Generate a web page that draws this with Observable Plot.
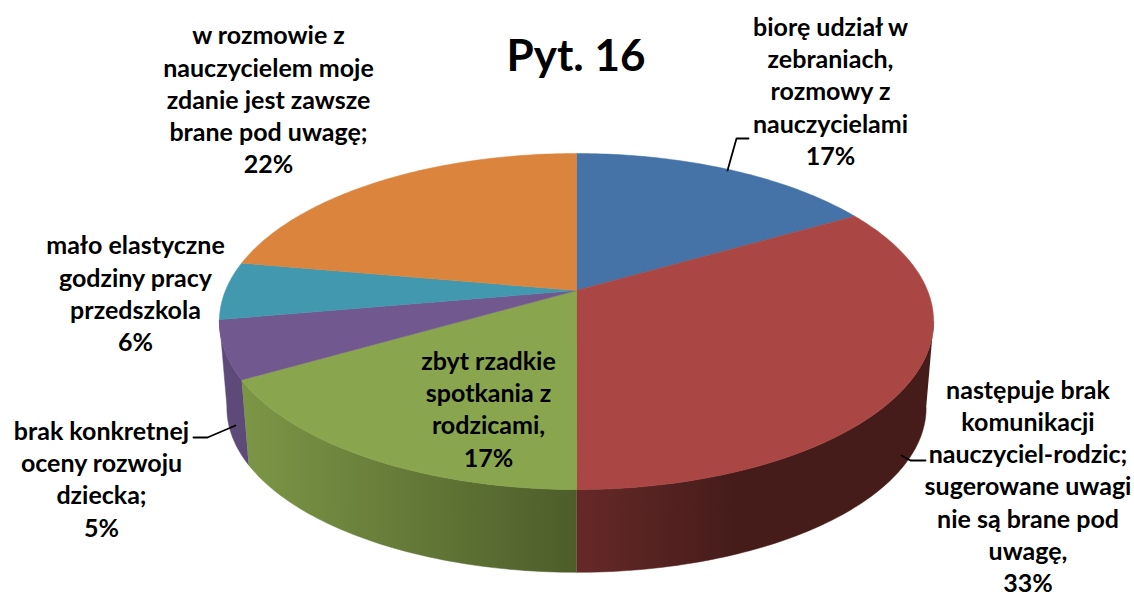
<!DOCTYPE html>
<html lang="pl">
<head>
<meta charset="utf-8">
<script src="https://cdn.jsdelivr.net/npm/d3@7"></script>
<script src="https://cdn.jsdelivr.net/npm/@observablehq/plot@0.6"></script>
<style>
html,body{margin:0;padding:0;background:#fff}
svg{display:block}
</style>
</head>
<body>
<div id="chart"></div>
<script>
// Data
const categories = [
  "biorę udział w\nzebraniach,\nrozmowy z\nnauczycielami",
  "następuje brak\nkomunikacji\nnauczyciel-rodzic;\nsugerowane uwagi\nnie są brane pod\nuwagę,",
  "zbyt rzadkie\nspotkania z\nrodzicami,",
  "brak konkretnej\noceny rozwoju\ndziecka;",
  "mało elastyczne\ngodziny pracy\nprzedszkola",
  "w rozmowie z\nnauczycielem moje\nzdanie jest zawsze\nbrane pod uwagę;"
];
const shares = [16.67, 33.33, 16.67, 5.56, 5.56, 22.22]; // slice sizes
const percentLabels = ["17%", "33%", "17%", "5%", "6%", "22%"]; // as printed
const chartTitle = "Pyt. 16";

// Styles
const topColors = ["#4572a7", "#aa4643", "#89a54e", "#71588f", "#4198af", "#db843d"];
const sideFills = {1: "url(#sideRed)", 2: "url(#sideGreen)", 3: "#5e4a78"};

// Layout of the tilted disc and its texts, in the chart's x/y scale units
const W = 1134, H = 594;
const disc = {cx: 576, cy: 290, rx: 351, ry: 162.3, persp: 0.1845, baseScale: 0.979, baseCy: 377};
const labelLayout = [
  {x: 830, y: 89.5},
  {x: 1027.5, y: 484.5},
  {x: 488, y: 407.5},
  {x: 101, y: 477.5},
  {x: 135, y: 292},
  {x: 268, y: 98}
];
const leaders = [
  [[727, 170], [736, 138], [748, 138]],
  [[901, 455], [910, 460], [925, 460]],
  [[235, 425], [207, 437], [193, 437]]
];

const rim = (a, ring = "top") => {
  const s = Math.sin(a), c = Math.cos(a), w = 1 + disc.persp * c;
  const k = ring === "top" ? 1 : disc.baseScale;
  const y0 = ring === "top" ? disc.cy : disc.baseCy;
  return {x: disc.cx + k * disc.rx * s / w, y: y0 - k * disc.ry * c / w};
};
const total = d3.sum(shares);
const edges = d3.cumsum([0, ...shares]).map(v => v / total * 2 * Math.PI);
const silhouette = Math.acos(-disc.persp); // angle of the disc's rightmost rim point
const arcAngles = (a0, a1) => {
  const n = Math.max(2, Math.ceil((a1 - a0) * 180 / Math.PI));
  return d3.range(n + 1).map(i => a0 + (a1 - a0) * i / n);
};
const topShapes = shares.map((_, i) => {
  const pts = [{x: disc.cx, y: disc.cy}, ...arcAngles(edges[i], edges[i + 1]).map(a => rim(a))];
  pts.push(pts[0]);
  return {points: pts, fill: topColors[i]};
});
const sideShapes = Object.keys(sideFills).map(k => {
  const i = +k, arc = arcAngles(Math.max(edges[i], silhouette), edges[i + 1]);
  return {
    points: [...arc.map(a => rim(a)), ...arc.slice().reverse().map(a => rim(a, "base"))],
    fill: sideFills[i]
  };
});

const shapeMark = s => Plot.line(s.points, {
  x: "x", y: "y", fill: s.fill, stroke: s.fill, strokeWidth: 0.5, curve: "linear"
});

const gradient = (id, x1, x2, stops) =>
  `<linearGradient id="${id}" gradientUnits="userSpaceOnUse" x1="${x1}" x2="${x2}" y1="0" y2="0">` +
  stops.map(([o, c]) => `<stop offset="${o}" stop-color="${c}"/>`).join("") + `</linearGradient>`;

const defs = () => {
  const g = document.createElementNS("http://www.w3.org/2000/svg", "defs");
  g.innerHTML =
    gradient("sideRed", 576, 930, [[0, "#662928"], [0.45, "#451c1a"], [1, "#451c1a"]]) +
    gradient("sideGreen", 243, 576, [[0, "#7c9646"], [1, "#4d5d2a"]]);
  return g;
};

const labels = categories.map((t, i) => ({
  text: `${t}\n${percentLabels[i]}`, ...labelLayout[i]
}));

const font = "Lato, 'Open Sans', sans-serif";
const chart = Plot.plot({
  width: W, height: H,
  margin: 0,
  x: {domain: [0, W], range: [0, W], axis: null},
  y: {domain: [0, H], range: [0, H], axis: null},
  marks: [
    defs,
    ...sideShapes.map(shapeMark),
    ...topShapes.map(shapeMark),
    ...leaders.map(pts => Plot.line(pts, {
      x: d => d[0], y: d => d[1], stroke: "#000", strokeWidth: 1.8, curve: "linear"
    })),
    Plot.text(labels, {
      x: "x", y: "y", text: "text",
      fontFamily: font, fontWeight: 700, fontSize: 25, lineHeight: 1.29,
      fill: "#000", textAnchor: "middle", lineAnchor: "middle"
    }),
    Plot.text([chartTitle], {
      x: () => 575.5, y: () => 56.5, text: d => d,
      fontFamily: font, fontWeight: 700, fontSize: 44, fill: "#000",
      textAnchor: "middle", lineAnchor: "middle"
    })
  ]
});
document.getElementById("chart").append(chart);
</script>
</body>
</html>
